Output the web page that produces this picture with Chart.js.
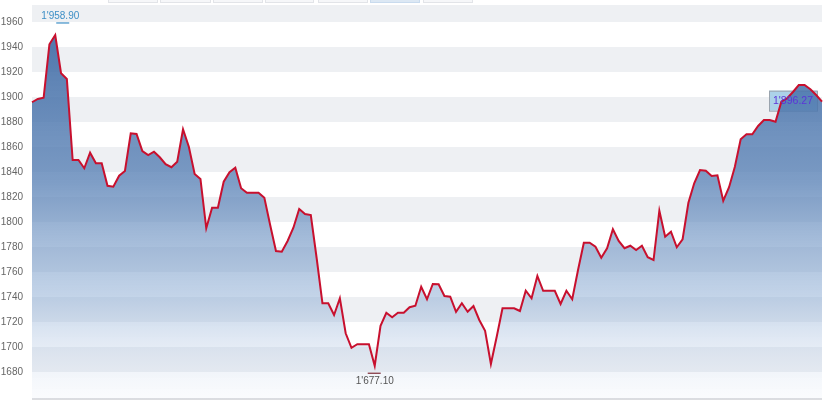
<!DOCTYPE html>
<html>
<head>
<meta charset="utf-8">
<script src="https://cdn.jsdelivr.net/npm/chart.js@4"></script>
<style>
  body { margin: 0; background: #fff; font-family: Arial, "Liberation Sans", sans-serif; }
  #wrap { position: relative; width: 830px; height: 404px; overflow: hidden; }
  .tab { position: absolute; top: -18px; height: 19px; border: 1px solid #e2e4e8; background: #f6f7f9; }
  .tab.on { background: #dce8f4; border-color: #c9dbee; }
</style>
</head>
<body>
<div id="wrap">
  <canvas id="chart"></canvas>
  <div class="tab" style="left:108px;width:48px"></div>
  <div class="tab" style="left:160px;width:49px"></div>
  <div class="tab" style="left:213px;width:48px"></div>
  <div class="tab" style="left:265px;width:47px"></div>
  <div class="tab" style="left:318px;width:48px"></div>
  <div class="tab on" style="left:370px;width:48px"></div>
  <div class="tab" style="left:423px;width:48px"></div>
</div>
<script>
const prices = [
  1895.8, 1898.4, 1899.4, 1942.2, 1949.6, 1919.0, 1914.4, 1849.6, 1849.6, 1843.0,
  1855.4, 1847.0, 1847.0, 1829.0, 1828.2, 1837.0, 1840.8, 1871.0, 1870.4, 1856.8,
  1853.6, 1856.2, 1851.8, 1846.2, 1843.8, 1848.2, 1874.2, 1860.2, 1838.4, 1834.4,
  1795.0, 1811.4, 1811.4, 1832.2, 1839.8, 1843.4, 1827.0, 1823.4, 1823.4, 1823.4,
  1819.4, 1797.6, 1776.8, 1776.2, 1784.8, 1795.4, 1810.4, 1806.4, 1805.6, 1771.2,
  1735.0, 1735.0, 1725.6, 1739.0, 1711.0, 1699.4, 1702.2, 1702.2, 1702.2, 1685.0,
  1717.0, 1727.4, 1723.8, 1727.4, 1727.4, 1731.8, 1733.0, 1748.2, 1738.2, 1750.4,
  1750.2, 1740.8, 1740.2, 1728.2, 1735.0, 1728.2, 1732.8, 1721.6, 1713.0, 1686.4,
  1708.2, 1731.0, 1731.0, 1731.0, 1728.8, 1745.0, 1739.0, 1756.8, 1745.0, 1745.0,
  1745.0, 1734.4, 1745.0, 1738.2, 1761.6, 1783.4, 1783.4, 1780.2, 1771.4, 1779.0,
  1794.2, 1784.8, 1779.0, 1781.0, 1777.6, 1781.0, 1771.8, 1769.6, 1809.0, 1788.2,
  1792.2, 1779.8, 1786.2, 1815.4, 1831.0, 1841.6, 1841.0, 1836.8, 1837.4, 1817.0,
  1827.8, 1844.2, 1866.2, 1870.2, 1870.2, 1876.8, 1881.6, 1881.6, 1880.2, 1896.2,
  1899.0, 1904.0, 1909.6, 1909.6, 1906.2, 1901.6, 1896.27
];
const days = prices.map((p, i) => i + 1);
const yTicks = [1680, 1700, 1720, 1740, 1760, 1780, 1800, 1820, 1840, 1860, 1880, 1900, 1920, 1940, 1960];
const bandStarts = [1680, 1720, 1760, 1800, 1840, 1880, 1920, 1960];
const highValue = 1958.90;
const lowValue = 1677.10;
const lastValue = 1896.27;

const fmt = v => {
  const s = v.toFixed(2);
  const [a, b] = s.split('.');
  return a.slice(0, a.length - 3) + "'" + a.slice(-3) + '.' + b;
};

const bands = {
  id: 'bands',
  beforeDatasetsDraw(chart) {
    const { ctx, chartArea: a, scales: { x, y } } = chart;
    ctx.save();
    ctx.beginPath();
    ctx.rect(a.left, a.top, a.right - a.left, a.bottom - a.top);
    ctx.clip();
    ctx.fillStyle = '#eef0f3';
    bandStarts.forEach(v => {
      const y1 = y.getPixelForValue(v + 20);
      const y0 = y.getPixelForValue(v);
      ctx.fillRect(a.left, y1, a.right - a.left, y0 - y1);
    });
    ctx.restore();

    // bottom axis line
    ctx.save();
    ctx.fillStyle = '#dcdde0';
    ctx.fillRect(a.left, a.bottom - 1, a.right - a.left, 2);
    ctx.restore();

    // last value box
    const lx = x.getPixelForValue(prices.length - 1);
    const ly = y.getPixelForValue(lastValue);
    ctx.save();
    ctx.fillStyle = 'rgba(168,208,232,0.95)';
    ctx.strokeStyle = '#9aa4ae';
    ctx.lineWidth = 1;
    ctx.fillRect(lx - 53, ly - 11, 48, 20);
    ctx.strokeRect(lx - 53 + 0.5, ly - 11 + 0.5, 48, 20);
    ctx.restore();
  },
  afterDatasetsDraw(chart) {
    const { ctx, scales: { x, y } } = chart;
    ctx.save();
    ctx.textAlign = 'center';
    ctx.textBaseline = 'middle';

    const lx = x.getPixelForValue(prices.length - 1);
    const ly = y.getPixelForValue(lastValue);
    ctx.font = '10.5px Arial, "Liberation Sans", sans-serif';
    ctx.fillStyle = '#5b35d8';
    ctx.fillText(fmt(lastValue), lx - 29, ly - 1);

    ctx.font = '10px Arial, "Liberation Sans", sans-serif';
    const hi = prices.indexOf(Math.max(...prices));
    const hx = x.getPixelForValue(hi);
    const hy = y.getPixelForValue(highValue);
    ctx.fillStyle = '#3d8fc6';
    ctx.fillText(fmt(highValue), hx + 5, hy - 7);
    ctx.fillRect(hx + 1, hy - 1, 13, 1.2);

    const lo = prices.indexOf(Math.min(...prices));
    const lox = x.getPixelForValue(lo);
    const loy = y.getPixelForValue(lowValue);
    ctx.fillStyle = '#555';
    ctx.fillText(fmt(lowValue), lox, loy + 6);
    ctx.fillStyle = '#7a2a35';
    ctx.fillRect(lox - 7, loy - 3, 13, 1.2);
    ctx.restore();
  }
};

const ctx = document.getElementById('chart').getContext('2d');
new Chart(ctx, {
  type: 'line',
  data: {
    labels: days,
    datasets: [{
      data: prices,
      borderColor: '#c8102e',
      borderWidth: 2,
      pointRadius: 0,
      tension: 0,
      fill: 'start',
      backgroundColor: (c) => {
        const a = c.chart.chartArea;
        if (!a) return 'rgba(90,130,180,0.6)';
        const g = c.chart.ctx.createLinearGradient(0, a.top, 0, a.bottom);
        g.addColorStop(0, 'rgba(55,100,160,0.92)');
        g.addColorStop(0.45, 'rgba(90,130,182,0.78)');
        g.addColorStop(0.75, 'rgba(140,172,212,0.5)');
        g.addColorStop(1, 'rgba(200,214,236,0.08)');
        return g;
      }
    }]
  },
  options: {
    responsive: true,
    maintainAspectRatio: false,
    animation: false,
    layout: { padding: { top: 5, right: 8, bottom: 5, left: 0 } },
    plugins: {
      legend: { display: false },
      tooltip: { enabled: false }
    },
    scales: {
      x: {
        display: false,
        offset: false
      },
      y: {
        min: 1658.4,
        max: 1973.6,
        afterBuildTicks: (s) => { s.ticks = yTicks.map(v => ({ value: v })); },
        afterFit: (s) => { s.width = 32; s.paddingTop = 0; s.paddingBottom = 0; },
        grid: { display: false, drawTicks: false },
        border: { display: false },
        ticks: {
          color: '#666',
          padding: 9,
          callback: (v) => String(v),
          font: { size: 10, family: 'Arial, "Liberation Sans", sans-serif' }
        }
      }
    }
  },
  plugins: [bands]
});
</script>
</body>
</html>
